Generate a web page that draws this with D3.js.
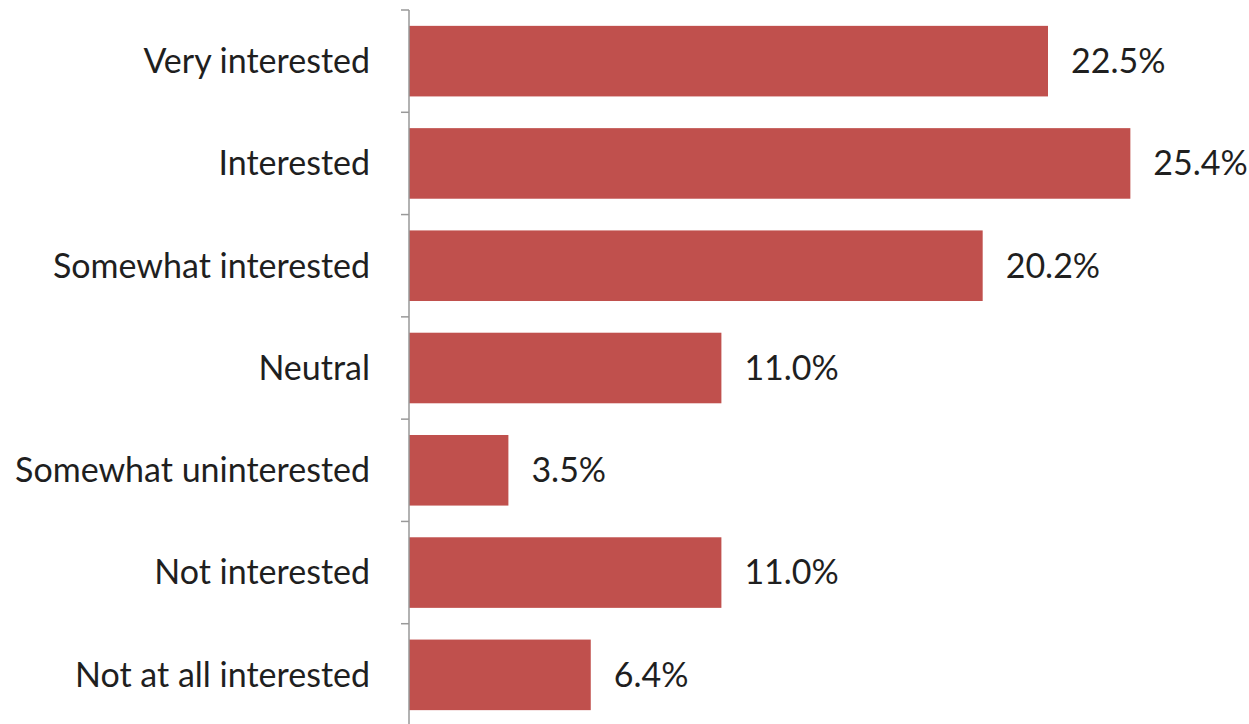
<!DOCTYPE html>
<html><head><meta charset="utf-8">
<script src="https://cdn.jsdelivr.net/npm/d3@7"></script>
<style>body{margin:0;background:#fff}svg{display:block}</style>
</head><body>
<script>
const categories = ["Very interested","Interested","Somewhat interested","Neutral","Somewhat uninterested","Not interested","Not at all interested"];
const values = [22.5,25.4,20.2,11.0,3.5,11.0,6.4];
const valueLabels = ["22.5%","25.4%","20.2%","11.0%","3.5%","11.0%","6.4%"];

const W=1249,H=724;
const svg=d3.select("body").append("svg").attr("width",W).attr("height",H);
const x=d3.scaleLinear().domain([0,30]).range([409,1261]);
const y=d3.scaleBand().domain(categories).range([10,726]).paddingInner(0.31).paddingOuter(0.155);
const font="Lato, 'Open Sans', sans-serif";

// bars
svg.selectAll("rect.bar").data(categories).join("rect")
 .attr("x",x(0)).attr("y",d=>y(d)).attr("height",y.bandwidth())
 .attr("width",(d,i)=>x(values[i])-x(0)).attr("fill","#C0504D");

// axis line and ticks at band boundaries
const bounds=d3.range(categories.length+1).map(i=>10+i*(716/categories.length));
svg.append("line").attr("x1",x(0)).attr("x2",x(0)).attr("y1",10).attr("y2",726).attr("stroke","#999").attr("stroke-width",1.5);
svg.selectAll("line.tick").data(bounds).join("line")
 .attr("x1",x(0)-8).attr("x2",x(0)).attr("y1",d=>d).attr("y2",d=>d).attr("stroke","#999").attr("stroke-width",1.5);

// category labels
svg.selectAll("text.cat").data(categories).join("text")
 .attr("x",x(0)-39).attr("y",d=>y(d)+y.bandwidth()/2).attr("dy","0.35em")
 .attr("text-anchor","end").attr("font-family",font).attr("font-size",34).attr("fill","#1f1f1f")
 .text(d=>d);

// value labels
svg.selectAll("text.val").data(categories).join("text")
 .attr("x",(d,i)=>x(values[i])+23).attr("y",d=>y(d)+y.bandwidth()/2).attr("dy","0.35em")
 .attr("font-family",font).attr("font-size",34).attr("fill","#1f1f1f")
 .text((d,i)=>valueLabels[i]);
</script>
</body></html>
